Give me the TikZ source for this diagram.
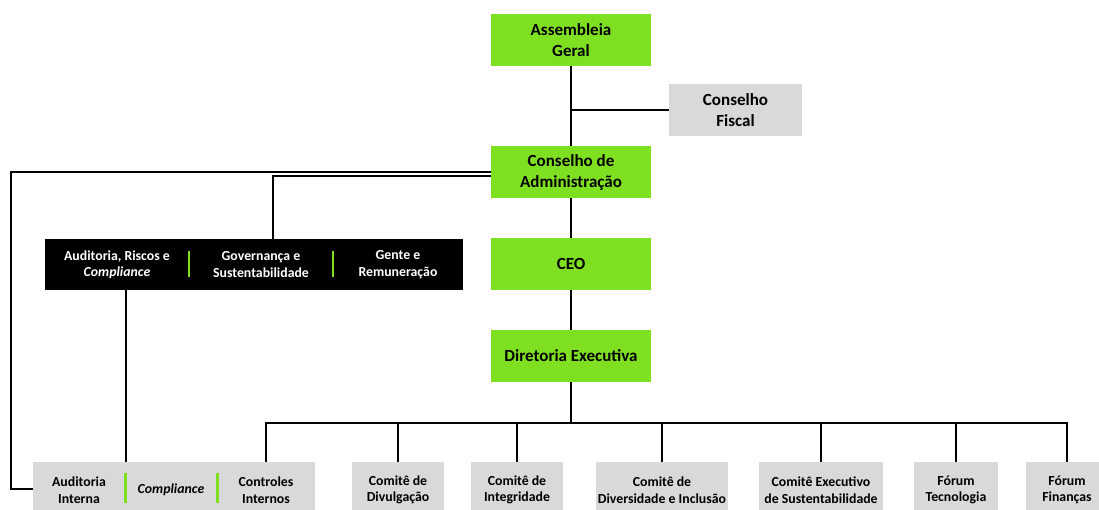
\documentclass[tikz,border=0pt]{standalone}
\usepackage{fontspec}
\setmainfont{Carlito}
\definecolor{limeGreen}{HTML}{7FE022}
\definecolor{lightGray}{HTML}{D9D9D9}

\begin{document}
\begin{tikzpicture}[
    x=1pt, y=-1pt,
    line_style/.style={line width=2pt, black},
    top_style/.style={fill=limeGreen, minimum width=160pt, minimum height=52pt, inner sep=0, align=center, font=\fontsize{17}{21}\selectfont\bfseries},
    fiscal_style/.style={top_style, fill=lightGray, minimum width=133pt},
    low_style/.style={fill=lightGray, minimum height=56pt, inner sep=0, align=center, font=\fontsize{13.8}{16.5}\selectfont\bfseries},
    txt_style/.style={inner sep=0, align=center, font=\fontsize{13.8}{16.5}\selectfont\bfseries},
    sep_style/.style={limeGreen, line width=2.4pt}
]

    \useasboundingbox (0,0) rectangle (1099,509);
    \clip (0,0) rectangle (1099,509);

    % --- eixo central ---
    \node[top_style] (ag) at (571,40) {Assembleia\\Geral};
    \node[fiscal_style] (cf) at (735.5,110) {Conselho\\Fiscal};
    \node[top_style] (ca) at (571,172) {Conselho de\\Administração};
    \node[top_style] (ceo) at (571,264) {CEO};
    \node[top_style] (de) at (571,356) {Diretoria Executiva};

    % --- comitês do conselho (caixa preta) ---
    \node[fill=black, minimum width=418pt, minimum height=51pt, inner sep=0] (comites) at (254,264.5) {};
    \node[txt_style, text=white] (arc) at (117,264.5) {Auditoria, Riscos e\\\textit{Compliance}};
    \node[txt_style, text=white] (gs) at (261,264.5) {Governança e\\Sustentabilidade};
    \node[txt_style, text=white] (gr) at (398,264.5) {Gente e\\Remuneração};
    \draw[sep_style] (189,251) -- (189,277);
    \draw[sep_style] (333,251) -- (333,277);

    % --- auditoria / compliance / controles ---
    \node[low_style, minimum width=282pt] (aud) at (174,490) {};
    \node[txt_style] (ai) at (79,490) {Auditoria\\Interna};
    \node[txt_style] (comp) at (171,490) {\textit{Compliance}};
    \node[txt_style] (ctrl) at (266,490) {Controles\\Internos};
    \coordinate (sep1) at (126,488);
    \draw[sep_style] (125.5,473) -- (125.5,503);
    \draw[sep_style] (217.5,473) -- (217.5,503);

    % --- comitês da diretoria ---
    \coordinate (barra) at (571,423);
    \foreach \nome/\cx/\w/\txt in {
        div/398/92/{Comitê de\\Divulgação},
        int/517/92/{Comitê de\\Integridade},
        dvi/662/132/{Comitê de\\Diversidade e Inclusão},
        sus/821/124/{Comitê Executivo\\de Sustentabilidade},
        tec/956/84/{Fórum\\Tecnologia},
        fin/1067/82/{Fórum\\Finanças}} {
        \node[low_style, minimum width=\w pt] (\nome) at (\cx,490) {\txt};
        \draw[line_style] (\nome.north) -- (\nome |- barra);
    }

    % --- ligações ---
    \draw[line_style] (ag) -- (ca);
    \draw[line_style] (cf.west) -- (cf.west -| ag);
    \draw[line_style] (ca) -- (ceo);
    \draw[line_style] (ceo) -- (de);
    \draw[line_style] (de) -- (barra);
    \draw[line_style] (ctrl |- aud.north) |- (fin |- barra) -- (fin.north);

    \coordinate (canto) at (11,489);
    \draw[line_style] (ca.west) -| (canto) -- (canto -| aud.west);
    \draw[line_style] ([yshift=-4pt]ca.west) -| ([xshift=19pt]comites.north);
    \draw[line_style] (comites.south -| sep1) -- (sep1 |- aud.north);

\end{tikzpicture}
\end{document}
